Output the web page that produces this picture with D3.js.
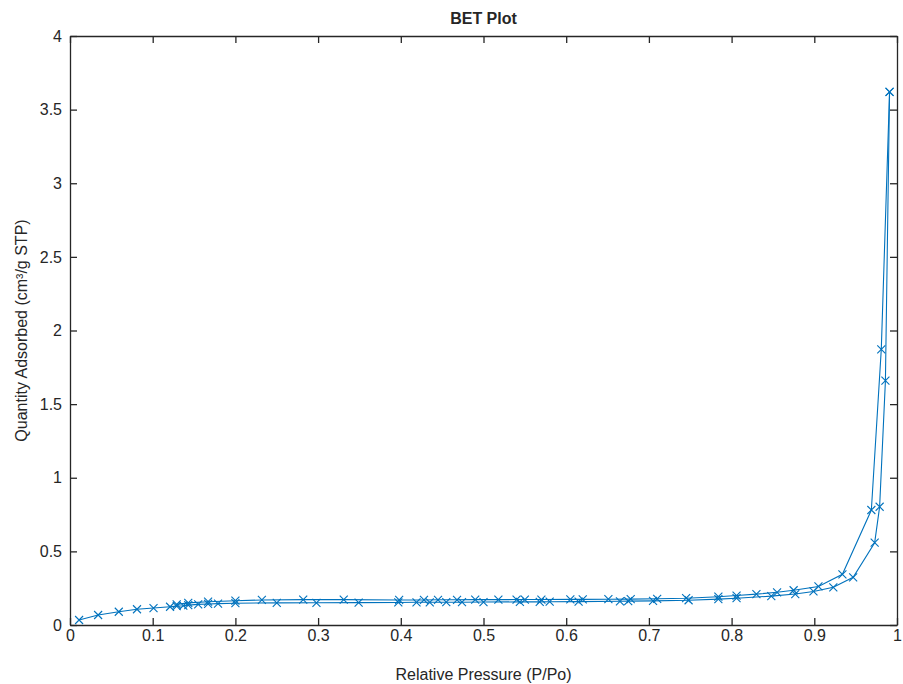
<!DOCTYPE html>
<html>
<head>
<meta charset="utf-8">
<script src="https://cdn.jsdelivr.net/npm/d3@7"></script>
<style>
  body { margin: 0; background: #fff; }
  text { font-family: "Liberation Sans", Arial, sans-serif; fill: #262626; }
</style>
</head>
<body>
<div id="chart"></div>
<script>
// Adsorption branch (lower curve)
const adsX = [0.011, 0.034, 0.059, 0.081, 0.101, 0.121, 0.129, 0.137, 0.143, 0.155, 0.167, 0.179, 0.200,
  0.250, 0.298, 0.349, 0.397, 0.419, 0.435, 0.455, 0.474, 0.500, 0.544, 0.568, 0.580, 0.615, 0.665,
  0.675, 0.705, 0.748, 0.784, 0.806, 0.848, 0.877, 0.899, 0.923, 0.947, 0.973, 0.979, 0.986, 0.991];
const adsY = [0.034, 0.068, 0.090, 0.107, 0.115, 0.124, 0.128, 0.131, 0.135, 0.140, 0.143, 0.145, 0.148,
  0.150, 0.151, 0.152, 0.153, 0.154, 0.154, 0.155, 0.155, 0.156, 0.157, 0.157, 0.158, 0.159, 0.161,
  0.162, 0.164, 0.168, 0.176, 0.182, 0.196, 0.210, 0.228, 0.256, 0.324, 0.559, 0.803, 1.659, 3.62];

// Desorption branch (upper curve)
const desX = [0.991, 0.981, 0.969, 0.934, 0.905, 0.875, 0.855, 0.830, 0.806, 0.784, 0.745, 0.710, 0.678,
  0.651, 0.620, 0.605, 0.570, 0.550, 0.540, 0.518, 0.490, 0.468, 0.445, 0.428, 0.398, 0.331, 0.282,
  0.232, 0.200, 0.167, 0.143, 0.129];
const desY = [3.62, 1.872, 0.781, 0.344, 0.262, 0.236, 0.222, 0.210, 0.200, 0.192, 0.182, 0.178, 0.176,
  0.175, 0.174, 0.174, 0.173, 0.173, 0.173, 0.172, 0.172, 0.171, 0.171, 0.170, 0.170, 0.172, 0.172,
  0.170, 0.165, 0.158, 0.150, 0.140];

const xTicks = [0, 0.1, 0.2, 0.3, 0.4, 0.5, 0.6, 0.7, 0.8, 0.9, 1];
const yTicks = [0, 0.5, 1, 1.5, 2, 2.5, 3, 3.5, 4];

const width = 903, height = 684;
const margin = { top: 36, right: 6, bottom: 59, left: 70 };
const lineColor = "#0072BD";
const axisColor = "#262626";

const svg = d3.select("#chart").append("svg")
    .attr("width", width)
    .attr("height", height);

const x = d3.scaleLinear().domain([0, 1]).range([margin.left, width - margin.right]);
const y = d3.scaleLinear().domain([0, 4]).range([height - margin.bottom, margin.top]);

const fmt = d => String(d);

// bottom / left axes with tick labels, ticks pointing inward
const xAxis = svg.append("g")
    .attr("transform", `translate(0,${y(0)})`)
    .call(d3.axisBottom(x).tickValues(xTicks).tickFormat(fmt).tickSizeInner(-7).tickSizeOuter(0).tickPadding(5));
const yAxis = svg.append("g")
    .attr("transform", `translate(${x(0)},0)`)
    .call(d3.axisLeft(y).tickValues(yTicks).tickFormat(fmt).tickSizeInner(-7).tickSizeOuter(0).tickPadding(8));

// top / right axes, ticks only
const xTop = svg.append("g")
    .attr("transform", `translate(0,${y(4)})`)
    .call(d3.axisTop(x).tickValues(xTicks).tickFormat("").tickSizeInner(-7).tickSizeOuter(0));
const yRight = svg.append("g")
    .attr("transform", `translate(${x(1)},0)`)
    .call(d3.axisRight(y).tickValues(yTicks).tickFormat("").tickSizeInner(-7).tickSizeOuter(0));

[xAxis, yAxis, xTop, yRight].forEach(a => {
    a.select(".domain").attr("stroke", axisColor).attr("stroke-width", 1.3);
    a.selectAll(".tick line").attr("stroke", axisColor).attr("stroke-width", 1.3);
    a.selectAll(".tick text")
        .attr("fill", "#333")
        .style("font-size", "16px")
        .style("font-family", "'Liberation Sans', Arial, sans-serif");
});

// data lines
const line = d3.line().x(d => x(d[0])).y(d => y(d[1]));
const adsData = adsX.map((v, i) => [v, adsY[i]]);
const desData = desX.map((v, i) => [v, desY[i]]);

[adsData, desData].forEach(data => {
    svg.append("path")
        .datum(data)
        .attr("fill", "none")
        .attr("stroke", lineColor)
        .attr("stroke-width", 1.1)
        .attr("d", line);

    // x markers
    const s = 4;
    svg.append("g").selectAll("path")
        .data(data)
        .enter().append("path")
        .attr("d", d => `M${x(d[0]) - s},${y(d[1]) - s}L${x(d[0]) + s},${y(d[1]) + s}M${x(d[0]) - s},${y(d[1]) + s}L${x(d[0]) + s},${y(d[1]) - s}`)
        .attr("stroke", lineColor)
        .attr("stroke-width", 1.1)
        .attr("fill", "none");
});

// title and axis labels
svg.append("text")
    .attr("x", (x(0) + x(1)) / 2)
    .attr("y", 24)
    .attr("text-anchor", "middle")
    .style("font-size", "16px")
    .style("font-weight", "bold")
    .text("BET Plot");

svg.append("text")
    .attr("x", (x(0) + x(1)) / 2)
    .attr("y", 680)
    .attr("text-anchor", "middle")
    .style("font-size", "16px")
    .attr("fill", "#333")
    .text("Relative Pressure (P/Po)");

svg.append("text")
    .attr("transform", `translate(27,${(y(0) + y(4)) / 2}) rotate(-90)`)
    .attr("text-anchor", "middle")
    .style("font-size", "16px")
    .attr("fill", "#333")
    .text("Quantity Adsorbed (cm³/g STP)");
</script>
</body>
</html>
